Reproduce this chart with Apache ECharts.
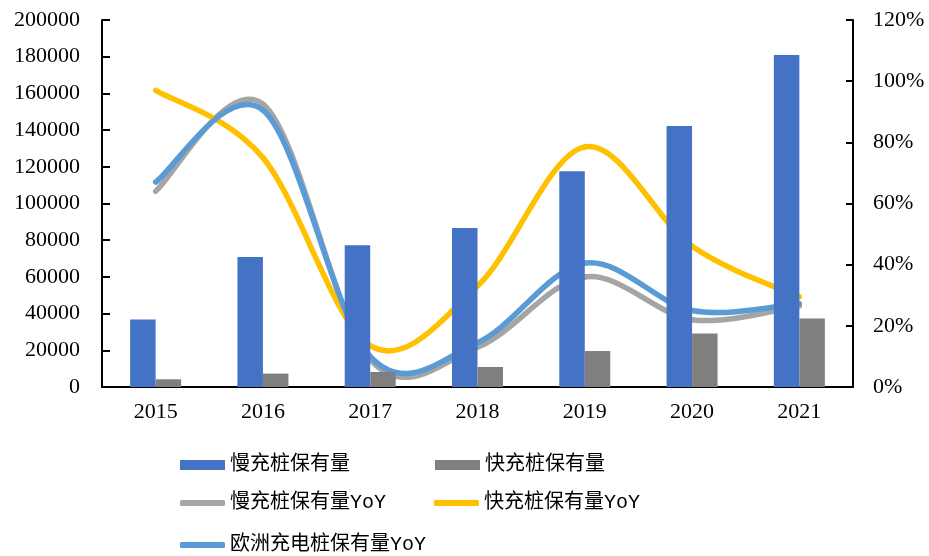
<!DOCTYPE html>
<html>
<head>
<meta charset="utf-8">
<script src="https://cdn.jsdelivr.net/npm/echarts@6/dist/echarts.min.js"></script>
<style>
  html, body { margin: 0; padding: 0; background: #fff; }
  #chart { width: 929px; height: 556px; }
</style>
</head>
<body>
<div id="chart"></div>
<script>
// Charging-pile stock (units) and year-on-year growth, 2015-2021
const years = ['2015', '2016', '2017', '2018', '2019', '2020', '2021'];
const slowStock = [36800, 70900, 77300, 86600, 117600, 142300, 180900];
const fastStock = [4200, 7300, 8200, 10900, 19600, 29100, 37300];
const slowYoY = [0.64, 0.925, 0.09, 0.13, 0.36, 0.22, 0.265];
const fastYoY = [0.97, 0.75, 0.135, 0.33, 0.785, 0.46, 0.295];
const euroYoY = [0.67, 0.905, 0.10, 0.145, 0.405, 0.25, 0.273];

// Axis ranges
const stockAxis = { min: 0, max: 200000, interval: 20000 };
const yoyAxis = { min: 0, max: 1.2, interval: 0.2 };

const names = ['慢充桩保有量', '快充桩保有量', '慢充桩保有量YoY', '快充桩保有量YoY', '欧洲充电桩保有量YoY'];
const colors = { slow: '#4472C4', fast: '#7F7F7F', slowYoY: '#A5A5A5', fastYoY: '#FFC000', euroYoY: '#5B9BD5' };

const axisFont = { fontFamily: "'Liberation Serif', 'Times New Roman', serif", fontSize: 22, color: '#000' };
const legendFont = { fontFamily: "'Liberation Mono', 'Noto Sans CJK SC', monospace", fontSize: 20, color: '#000' };
const LINE_WIDTH = 5.5;

function legendAt(name, left, top, isLine) {
  return {
    data: [{ name: name, icon: isLine ? 'roundRect' : 'rect' }],
    left: left, top: top, padding: 0,
    itemWidth: 45, itemHeight: isLine ? 6 : 10,
    selectedMode: false,
    textStyle: legendFont
  };
}

// Smooth curve through the data points (cardinal spline drawn as cubic Bezier
// segments). Each data item draws the segment from its point to the next one.
function smoothSegment(values, color) {
  return function (params, api) {
    const i = params.dataIndex;
    const n = values.length;
    if (i >= n - 1) return null;
    const pt = k => {
      const j = Math.min(Math.max(k, 0), n - 1);
      return api.coord([j, values[j]]);
    };
    const p0 = pt(i - 1), p1 = pt(i), p2 = pt(i + 1), p3 = pt(i + 2);
    const t = 1 / 6;
    return {
      type: 'bezierCurve',
      shape: {
        x1: p1[0], y1: p1[1],
        cpx1: p1[0] + (p2[0] - p0[0]) * t, cpy1: p1[1] + (p2[1] - p0[1]) * t,
        cpx2: p2[0] - (p3[0] - p1[0]) * t, cpy2: p2[1] - (p3[1] - p1[1]) * t,
        x2: p2[0], y2: p2[1]
      },
      style: { stroke: color, lineWidth: LINE_WIDTH, fill: 'none', lineCap: 'round', lineJoin: 'round' }
    };
  };
}

function yoySeries(name, values, color) {
  return {
    name: name, type: 'custom', yAxisIndex: 1,
    data: values.map((v, i) => [i, v]),
    encode: { x: 0, y: 1 },
    itemStyle: { color: color },
    renderItem: smoothSegment(values, color)
  };
}

const chart = echarts.init(document.getElementById('chart'), null, { renderer: 'canvas' });
chart.setOption({
  animation: false,
  backgroundColor: '#fff',
  grid: { left: 102, right: 76, top: 20, bottom: 169 },
  legend: [
    legendAt(names[0], 180, 455, false),
    legendAt(names[1], 435, 455, false),
    legendAt(names[2], 180, 493, true),
    legendAt(names[3], 434, 493, true),
    legendAt(names[4], 180, 535, true)
  ],
  xAxis: {
    type: 'category',
    data: years,
    boundaryGap: true,
    axisLine: { lineStyle: { color: '#000', width: 2 } },
    axisTick: { inside: true, length: 7, lineStyle: { color: '#000', width: 2 } },
    axisLabel: Object.assign({ margin: 14 }, axisFont)
  },
  yAxis: [
    {
      type: 'value',
      min: stockAxis.min, max: stockAxis.max, interval: stockAxis.interval,
      axisLine: { show: true, lineStyle: { color: '#000', width: 2 } },
      axisTick: { show: true, inside: true, length: 8, lineStyle: { color: '#000', width: 2 } },
      splitLine: { show: false },
      axisLabel: Object.assign({ margin: 22, formatter: v => String(v) }, axisFont)
    },
    {
      type: 'value',
      min: yoyAxis.min, max: yoyAxis.max, interval: yoyAxis.interval,
      position: 'right',
      axisLine: { show: true, lineStyle: { color: '#000', width: 2 } },
      axisTick: { show: true, inside: true, length: 7, lineStyle: { color: '#000', width: 2 } },
      splitLine: { show: false },
      axisLabel: Object.assign({
        margin: 20,
        formatter: v => Math.round(v * 100) + '%'
      }, axisFont)
    }
  ],
  series: [
    {
      name: names[0], type: 'bar', data: slowStock, yAxisIndex: 0,
      barWidth: 25.5, barGap: '0%',
      itemStyle: { color: colors.slow }
    },
    {
      name: names[1], type: 'bar', data: fastStock, yAxisIndex: 0,
      barWidth: 25.5, barGap: '0%',
      itemStyle: { color: colors.fast }
    },
    yoySeries(names[2], slowYoY, colors.slowYoY),
    yoySeries(names[3], fastYoY, colors.fastYoY),
    yoySeries(names[4], euroYoY, colors.euroYoY)
  ]
});
</script>
</body>
</html>
